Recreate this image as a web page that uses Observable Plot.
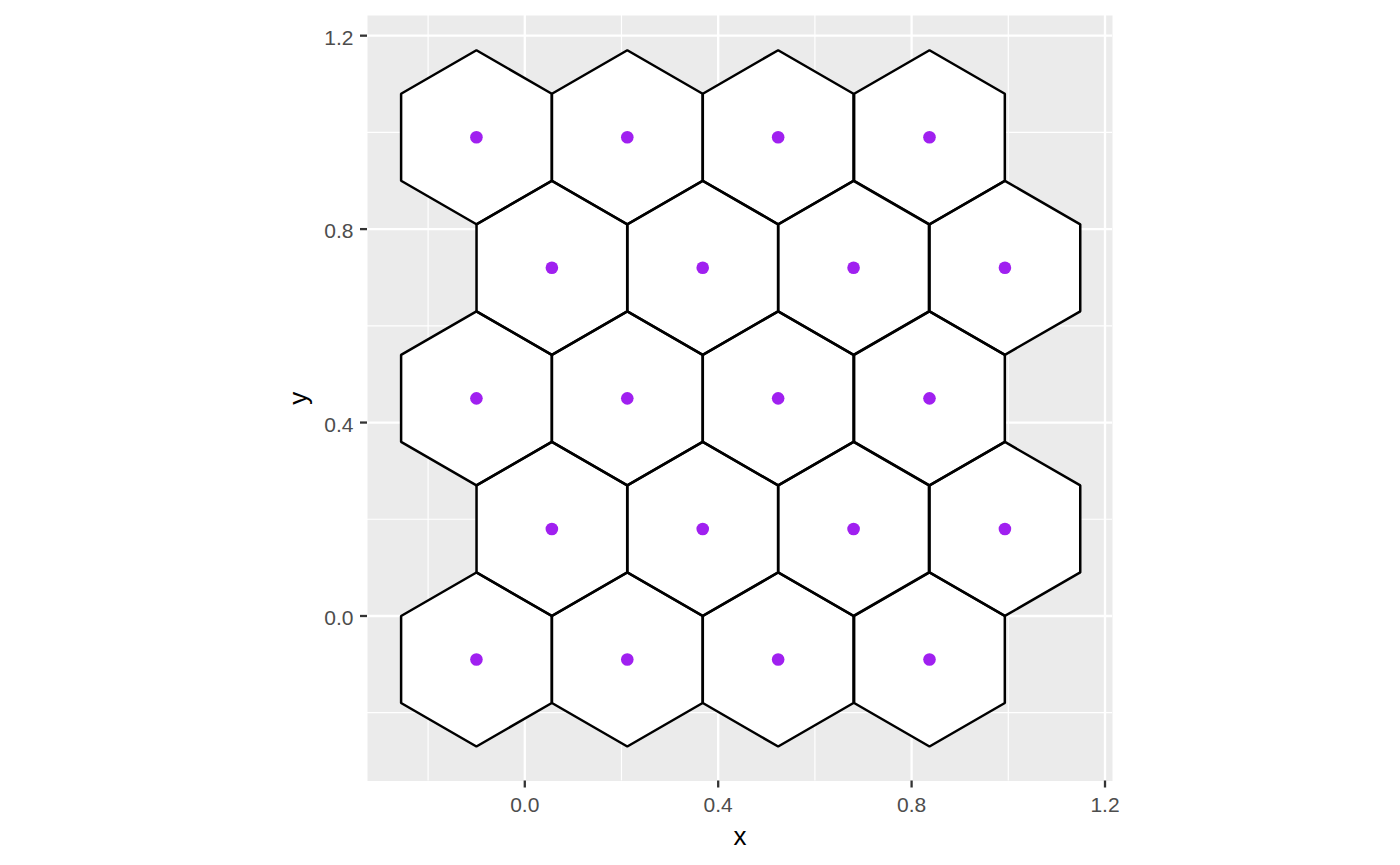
<!DOCTYPE html>
<html>
<head>
<meta charset="utf-8">
<script src="https://cdn.jsdelivr.net/npm/d3@7"></script>
<script src="https://cdn.jsdelivr.net/npm/@observablehq/plot@0.6"></script>
<style>
  html, body { margin: 0; padding: 0; background: #ffffff; }
  #chart svg { display: block; }
</style>
</head>
<body>
<div id="chart"></div>
<script>
// Hexagon centre rows (y) and the x centres for the two alternating row types
const rowY = [0.99, 0.72, 0.45, 0.18, -0.09];
const rowAX = [-0.100, 0.212, 0.524, 0.837];   // rows 0.99, 0.45, -0.09
const rowBX = [0.056, 0.368, 0.680, 0.993];    // rows 0.72, 0.18
const rowType = ["A", "B", "A", "B", "A"];

const xTicks = [0.0, 0.4, 0.8, 1.2];
const yTicks = [0.0, 0.4, 0.8, 1.2];
const xMinor = [-0.2, 0.2, 0.6, 1.0];
const yMinor = [-0.2, 0.2, 0.6, 1.0];

// hexagon geometry (data units)
const hexR = 0.1799;
const hexW = hexR * Math.sqrt(3) / 2;

const centers = [];
rowY.forEach((y, i) => {
  (rowType[i] === "A" ? rowAX : rowBX).forEach(x => centers.push({x, y}));
});
const hexVerts = [];
centers.forEach((c, id) => {
  const v = [[0, hexR], [hexW, hexR / 2], [hexW, -hexR / 2], [0, -hexR], [-hexW, -hexR / 2], [-hexW, hexR / 2]];
  v.forEach(([dx, dy]) => hexVerts.push({id, x: c.x + dx, y: c.y + dy}));
});

const font = "'Liberation Sans', Arial, Helvetica, sans-serif";
const fmt = d3.format(".1f");

const chart = Plot.plot({
  width: 1400,
  height: 865,
  marginLeft: 367,
  marginRight: 288,
  marginTop: 15,
  marginBottom: 84.5,
  style: {fontFamily: font, fontSize: "21px", background: "#ffffff", overflow: "visible"},
  x: {domain: [-0.3253, 1.2155], axis: null},
  y: {domain: [-0.3412, 1.2417], axis: null},
  marks: [
    Plot.frame({fill: "#EBEBEB", stroke: null}),
    Plot.ruleX(xMinor, {stroke: "#ffffff", strokeWidth: 1.2}),
    Plot.ruleY(yMinor, {stroke: "#ffffff", strokeWidth: 1.2}),
    Plot.ruleX(xTicks, {stroke: "#ffffff", strokeWidth: 2.3}),
    Plot.ruleY(yTicks, {stroke: "#ffffff", strokeWidth: 2.3}),
    Plot.line(hexVerts, {x: "x", y: "y", z: "id", curve: "linear-closed", fill: "#ffffff", stroke: "none"}),
    Plot.line(hexVerts, {x: "x", y: "y", z: "id", curve: "linear-closed", fill: "none", stroke: "#000000", strokeWidth: 2.5, strokeLinejoin: "miter"}),
    Plot.dot(centers, {x: "x", y: "y", r: 6.3, fill: "#A020F0", stroke: "none"}),
    Plot.axisX(xTicks, {anchor: "bottom", tickSize: 7, tickPadding: 9, strokeWidth: 2.3, stroke: "#333333", fill: "#4D4D4D", tickFormat: fmt, label: null, fontSize: 21}),
    // y ticks only
    Plot.axisY(yTicks, {anchor: "left", tickSize: 7, strokeWidth: 2.3, stroke: "#333333", fill: "none", label: null}),
    // y tick labels only, nudged down like ggplot's
    Plot.axisY(yTicks, {anchor: "left", tickSize: 0, tickPadding: 14, stroke: "none", fill: "#4D4D4D", tickFormat: fmt, label: null, fontSize: 21, dy: 2.5}),
    Plot.text(["x"], {frameAnchor: "bottom", textAnchor: "middle", lineAnchor: "middle", dy: 55.5, fill: "#000000", fontSize: 26}),
    Plot.text(["y"], {frameAnchor: "left", textAnchor: "middle", lineAnchor: "middle", dx: -69, rotate: -90, fill: "#000000", fontSize: 26})
  ]
});
document.getElementById("chart").appendChild(chart);
</script>
</body>
</html>
